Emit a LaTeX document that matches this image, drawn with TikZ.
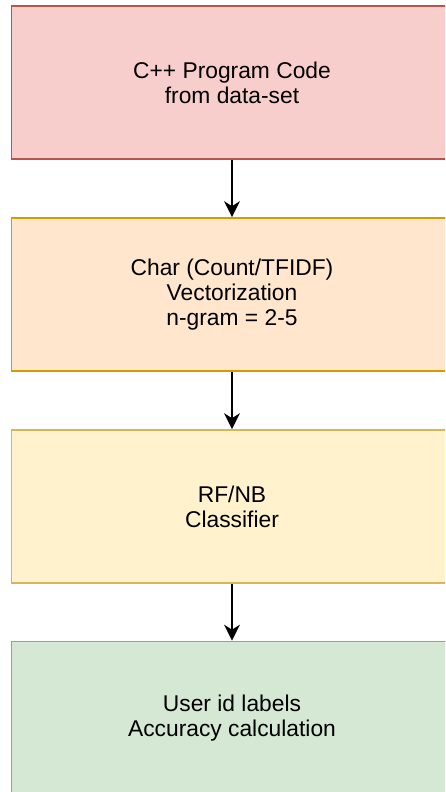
\documentclass[tikz,border=0pt]{standalone}
\usepackage{fontspec}
\setmainfont{Liberation Sans}
\usepackage{tikz}
\usetikzlibrary{arrows.meta}

\definecolor{redfill}{HTML}{F8CECC}
\definecolor{reddraw}{HTML}{B85450}
\definecolor{orangefill}{HTML}{FFE6CC}
\definecolor{orangedraw}{HTML}{D79B00}
\definecolor{yellowfill}{HTML}{FFF2CC}
\definecolor{yellowdraw}{HTML}{D6B656}
\definecolor{greenfill}{HTML}{D5E8D4}
\definecolor{greendraw}{HTML}{82B366}

\tikzset{
  stage/.style={rectangle, minimum width=441pt, minimum height=153pt,
    line width=1.7pt, align=center, inner sep=0pt,
    font=\fontsize{22.8pt}{25.3pt}\selectfont},
  flow/.style={line width=1.4pt, -{Stealth[length=16pt,width=16pt,inset=5pt]}}
}

\begin{document}
\begin{tikzpicture}[x=1pt,y=-1pt]
        \useasboundingbox (0,0) rectangle (445,792);
        \clip (0,0) rectangle (445,792);

        \node[stage, fill=redfill, draw=reddraw] (code) at (232,82.5) {C++ Program Code\\from data-set};
        \node[stage, fill=orangefill, draw=orangedraw] (vect) at (232,294.5) {Char (Count/TFIDF)\\Vectorization\\n-gram = 2-5};
        \node[stage, fill=yellowfill, draw=yellowdraw] (clf) at (232,506.5) {RF/NB\\Classifier};
        \node[stage, fill=greenfill, draw=greendraw] (acc) at (232,718) {User id labels\\Accuracy calculation};

        \draw[flow] (code) -- (vect);
        \draw[flow] (vect) -- (clf);
        \draw[flow] (clf) -- (acc);
    \end{tikzpicture}
\end{document}
